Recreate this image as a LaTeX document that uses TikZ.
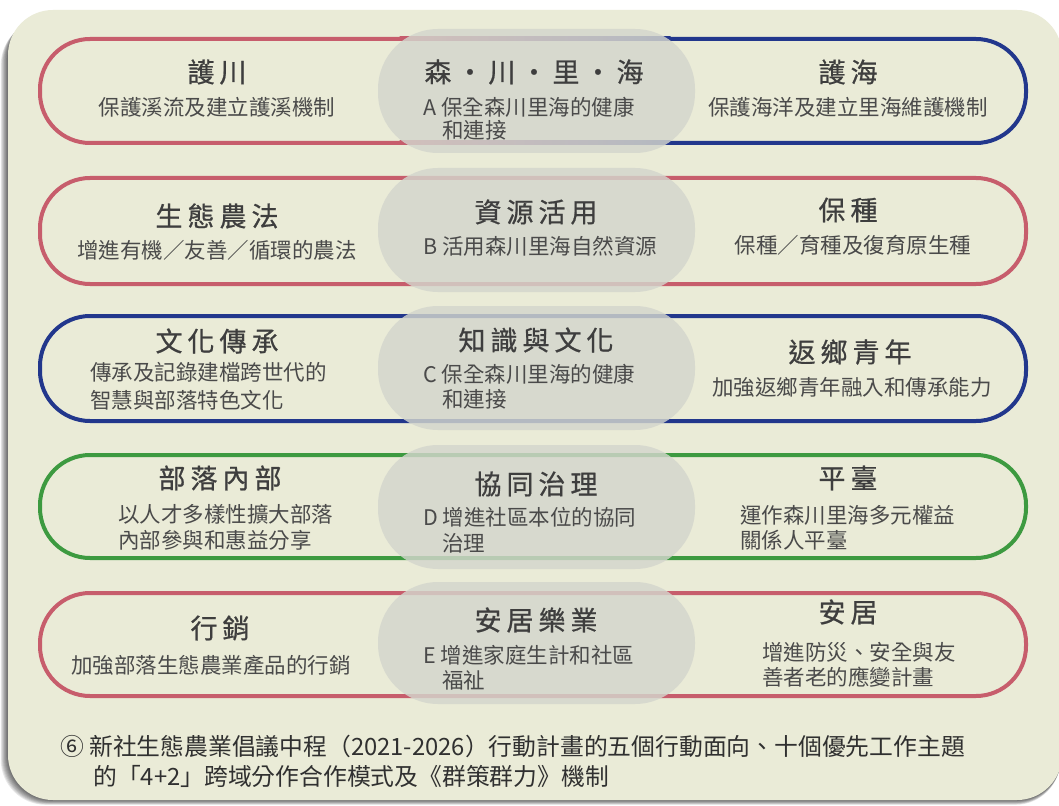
\documentclass[tikz,border=0pt]{standalone}
\usepackage{fontspec}
\newfontfamily\cjk{Noto Sans CJK TC}
\newfontfamily\cjkt{Noto Sans CJK TC}[FakeBold=0.7]
\definecolor{cream}{HTML}{EAEBD7}
\definecolor{pinkc}{HTML}{C75D6C}
\definecolor{navyc}{HTML}{22378C}
\definecolor{greenc}{HTML}{3D9A40}
\definecolor{grayov}{HTML}{D4D6CD}
\definecolor{titc}{HTML}{3E3E3E}
\definecolor{subc}{HTML}{4A4A4A}
\definecolor{capc}{HTML}{303030}
\newcommand\gp{\hspace{5pt}}
\begin{document}
\begin{tikzpicture}[x=1pt,y=-1pt,
  ttl/.style={font=\cjkt\fontsize{27}{30}\selectfont, text=titc, inner sep=0pt},
  sub/.style={font=\cjk\fontsize{21.5}{26}\selectfont, text=subc, inner sep=0pt},
  captxt/.style={font=\cjk\fontsize{23.8}{28}\selectfont, text=capc, inner sep=0pt, anchor=west},
  ring/.style={line width=4pt, rounded corners=50pt},
  ov/.style={fill=grayov, fill opacity=0.82, rounded corners=60pt}]
\useasboundingbox (0,0) rectangle (1059,805);
\fill[white] (0,0) rectangle (1059,805);
% card shadow
\begin{scope}
\clip (0,0) rectangle (1059,805);
\foreach \s in {1,...,8}{
  \fill[black, opacity=0.09, rounded corners=45pt] (8-\s*0.9,12+\s*1.0) rectangle (1062-\s*0.2,800+\s*0.6);
}
\fill[cream, rounded corners=45pt] (8,10) rectangle (1062,800);
\end{scope}
% row 1 (pink -> navy)
\begin{scope}
\clip (0,0) rectangle (400,805);
\draw[ring, pinkc] (40,39) rectangle (1026,143);
\end{scope}
\begin{scope}
\clip (670,0) rectangle (1059,805);
\draw[ring, navyc] (40,39) rectangle (1026,143);
\end{scope}
\shade[left color=pinkc, right color=navyc] (399.5,37) rectangle (670.5,41);
\shade[left color=pinkc, right color=navyc] (399.5,141) rectangle (670.5,145);
% rows 2-5
\draw[ring, pinkc] (40,178) rectangle (1026,284);
\draw[ring, navyc] (40,316) rectangle (1026,421);
\draw[ring, greenc] (40,455) rectangle (1026,558);
\draw[ring, pinkc] (40,593) rectangle (1026,696);
% overlays
\fill[ov] (378,29) rectangle (695,153);
\fill[ov] (378,168) rectangle (695,292);
\fill[ov] (378,306) rectangle (695,430);
\fill[ov] (378,445) rectangle (695,569);
\fill[ov] (378,582) rectangle (695,704);
% row 1
\node[ttl] (t1l) at (217,72) {護\gp 川};
\node[sub] (s1l) at (217,107) {保護溪流及建立護溪機制};
\node[ttl] (t1c) at (534,72) {森\gp ・\gp 川\gp ・\gp 里\gp ・\gp 海};
\node[sub, anchor=west] (s1c) at (423,107) {A 保全森川里海的健康};
\node[sub, anchor=west] (s1d) at (442,130) {和連接};
\node[ttl] (t1r) at (848,72) {護\gp 海};
\node[sub] (s1r) at (848,107) {保護海洋及建立里海維護機制};
% row 2
\node[ttl] (t2l) at (217,216) {生\gp 態\gp 農\gp 法};
\node[sub] (s2l) at (217,250) {增進有機／友善／循環的農法};
\node[ttl] (t2c) at (536,212) {資\gp 源\gp 活\gp 用};
\node[sub, anchor=west] (s2c) at (423,246) {B 活用森川里海自然資源};
\node[ttl] (t2r) at (848,210) {保\gp 種};
\node[sub] (s2r) at (853,245) {保種／育種及復育原生種};
% row 3
\node[ttl] (t3l) at (217,341) {文\gp 化\gp 傳\gp 承};
\node[sub, anchor=west] (s3l) at (90,372) {傳承及記錄建檔跨世代的};
\node[sub, anchor=west] (s3m) at (90,400) {智慧與部落特色文化};
\node[ttl] (t3c) at (536,340) {知\gp 識\gp 與\gp 文\gp 化};
\node[sub, anchor=west] (s3c) at (423,374) {C 保全森川里海的健康};
\node[sub, anchor=west] (s3d) at (442,399) {和連接};
\node[ttl] (t3r) at (850,352) {返\gp 鄉\gp 青\gp 年};
\node[sub] (s3r) at (852,387) {加強返鄉青年融入和傳承能力};
% row 4
\node[ttl] (t4l) at (220,478) {部\gp 落\gp 內\gp 部};
\node[sub, anchor=west] (s4l) at (118,514) {以人才多樣性擴大部落};
\node[sub, anchor=west] (s4m) at (118,540) {內部參與和惠益分享};
\node[ttl] (t4c) at (536,484) {協\gp 同\gp 治\gp 理};
\node[sub, anchor=west] (s4c) at (423,517) {D 增進社區本位的協同};
\node[sub, anchor=west] (s4d) at (442,543) {治理};
\node[ttl] (t4r) at (848,478) {平\gp 臺};
\node[sub, anchor=west] (s4r) at (740,515) {運作森川里海多元權益};
\node[sub, anchor=west] (s4s) at (740,540) {關係人平臺};
% row 5
\node[ttl] (t5l) at (220,628) {行\gp 銷};
\node[sub] (s5l) at (211,665) {加強部落生態農業產品的行銷};
\node[ttl] (t5c) at (536,620) {安\gp 居\gp 樂\gp 業};
\node[sub, anchor=west] (s5c) at (423,655) {E 增進家庭生計和社區};
\node[sub, anchor=west] (s5d) at (442,680) {福祉};
\node[ttl] (t5r) at (848,612) {安\gp 居};
\node[sub, anchor=west] (s5r) at (762,652) {增進防災、安全與友};
\node[sub, anchor=west] (s5s) at (762,677) {善者老的應變計畫};
% caption
\node[captxt] (c1) at (60,746) {⑥ 新社生態農業倡議中程（2021-2026）行動計畫的五個行動面向、十個優先工作主題};
\node[captxt] (c2) at (93,776) {的「4+2」跨域分作合作模式及《群策群力》機制};
\end{tikzpicture}
\end{document}
